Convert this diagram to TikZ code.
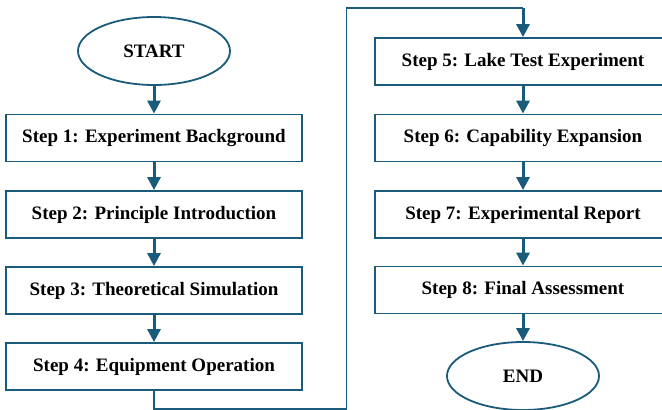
\documentclass[tikz,border=0pt]{standalone}
\usepackage{fontspec}
\setmainfont{Liberation Serif}
\usetikzlibrary{arrows.meta,shapes.geometric}
\definecolor{flowblue}{RGB}{26,90,122}
\tikzset{
 stepbox/.style={draw=flowblue,line width=1.8pt,fill=white,minimum width=296pt,minimum height=47pt,inner sep=0pt,font=\fontsize{19}{22}\selectfont\bfseries},
 termbox/.style={ellipse,draw=flowblue,line width=1.8pt,minimum width=152pt,minimum height=68pt,inner sep=0pt,font=\fontsize{19}{22}\selectfont\bfseries},
 flow/.style={draw=flowblue,line width=3pt,-{Triangle[length=13pt,width=13pt]}},
 link/.style={draw=flowblue,line width=1.8pt}
}
\begin{document}
\begin{tikzpicture}[x=1pt,y=-1pt]
\useasboundingbox (0,0) rectangle (662,410);
\clip (0,0) rectangle (662,410); % right column runs off the page
\node[termbox] (start) at (154,51) {START};
\foreach \n/\y/\t in {1/138/Experiment Background,2/214.5/Principle Introduction,3/290.5/Theoretical Simulation,4/366.5/Equipment Operation}
 \node[stepbox] (s\n) at (154,\y) {Step \n: \t};
\foreach \n/\y/\t in {5/61.5/Lake Test Experiment,6/138/Capability Expansion,7/214.5/Experimental Report,8/290/Final Assessment}
 \node[stepbox] (s\n) at (523,\y) {Step \n: \t};
\node[termbox] (stop) at (523,376) {END};
% arrows down each column
\draw[flow] (start) -- (s1);
\foreach \a/\b in {1/2,2/3,3/4,5/6,6/7,7/8}
 \draw[flow] (s\a) -- (s\b);
\draw[flow] (s8) -- (stop);
% jump from step 4 over to step 5
\coordinate (bend) at (346.5,409);
\coordinate (turn) at (523,8);
\draw[link] (s4.south) |- (bend) |- (turn);
\draw[flow] (turn) -- (s5.north);
\end{tikzpicture}
\end{document}
